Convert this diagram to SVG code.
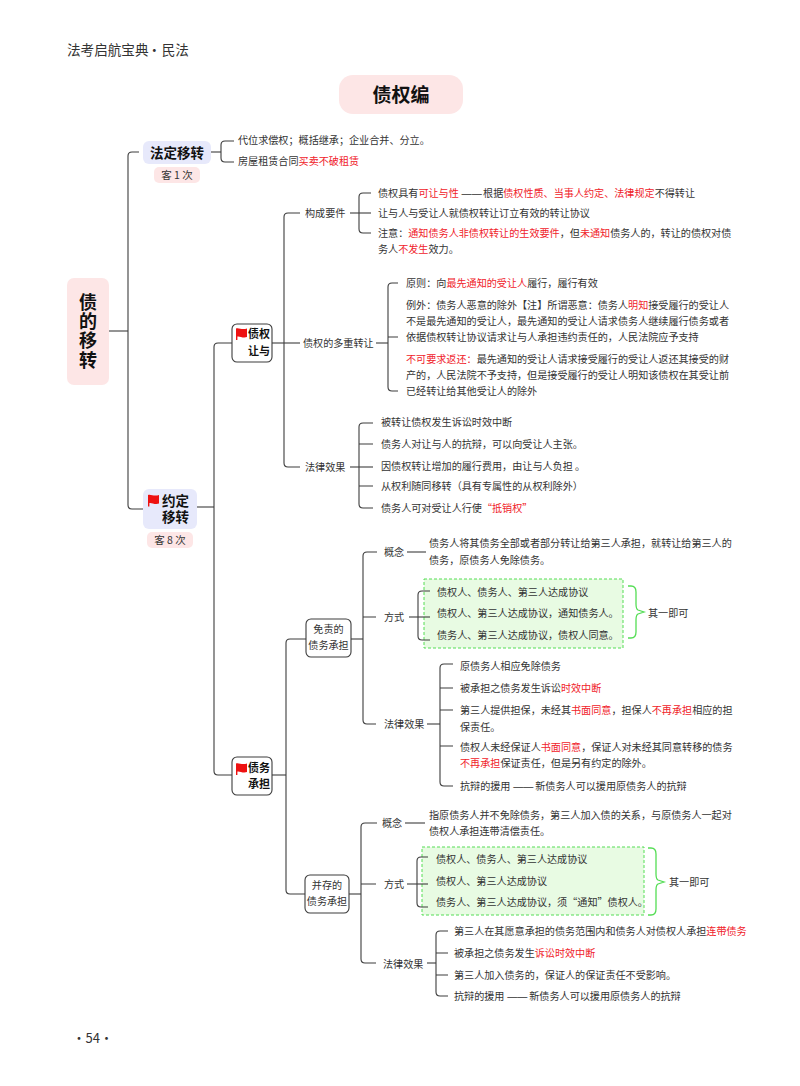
<svg xmlns="http://www.w3.org/2000/svg" width="800" height="1086" viewBox="0 0 800 1086">
<style>
text{font-family:"Noto Sans CJK SC","Noto Sans",sans-serif;font-size:10.1px;fill:#333}
.r{fill:#f0222a}
.b{font-weight:700;fill:#111}
.c{text-anchor:middle}
.d{font-family:"Liberation Sans",sans-serif}
.pink{fill:#fde6e6}
.lav{fill:#e7e9fb}
.wb{fill:#fff;stroke:#3c3c3c;stroke-width:1.1}
.gb{fill:#e8fbe3;stroke:#55dd55;stroke-width:1;stroke-dasharray:3 2}
.br{fill:none;stroke:#55dd55;stroke-width:1.3}
.rt{font-size:18px;writing-mode:vertical-rl;letter-spacing:1.3px}
#connectors path{fill:none;stroke:#3c3c3c;stroke-width:1.1}
</style>
<defs>
<path id="flag" fill="#ee1111" d="M0 0C3 -1 6 1.800 11 0V8.500C7 10 3.500 7.300 1.400 8V11.500H0Z"/>
</defs>
<rect width="800" height="1086" fill="#fff"/>
<g id="header"><text x="67" y="55" style="font-size:13.6px">法考启航宝典<tspan dx="-1">·</tspan><tspan dx="0.500">民法</tspan></text></g>
<g id="green-boxes"><rect class="gb" x="424" y="579" width="199" height="69"/><rect class="gb" x="422" y="847" width="222" height="68"/></g>
<g id="connectors">
<path d="M109 331H128"/>
<path d="M139 152H132Q128 152 128 156V505Q128 509 132 509H143"/>
<path d="M211 152H221"/>
<path d="M234 141H225Q221 141 221 145V158Q221 162 225 162H234"/>
<path d="M197 507H214"/>
<path d="M232 343H218Q214 343 214 347V771Q214 775 218 775H232"/>
<path d="M272 343H300"/>
<path d="M300 213H288Q284 213 284 217V463Q284 467 288 467H300"/>
<path d="M350 213H371"/>
<path d="M371 193H363Q359 193 359 197V229Q359 233 363 233H371"/>
<path d="M376 343H388"/>
<path d="M398 283H392Q388 283 388 287V387Q388 391 392 391H398M388 337H398"/>
<path d="M350 467H373"/>
<path d="M373 423H363Q359 423 359 427V504Q359 508 363 508H373M359 444H373M359 486H373"/>
<path d="M272 775H286"/>
<path d="M306 639H290Q286 639 286 643V890Q286 894 290 894H305"/>
<path d="M351 639H363"/>
<path d="M377 552H367Q363 552 363 556V720Q363 724 367 724H376M363 617H376"/>
<path d="M407 552H426"/>
<path d="M409 617H430"/>
<path d="M430 591H422Q418 591 418 595V636Q418 640 422 640H430"/>
<path d="M427 724H440"/>
<path d="M453 664H444Q440 664 440 668V782Q440 786 444 786H453M440 688H453M440 710H453M440 746H453"/>
<path d="M349 894H361"/>
<path d="M377 823H365Q361 823 361 827V959Q361 963 365 963H376M361 884H376"/>
<path d="M405 823H425"/>
<path d="M407 884H428"/>
<path d="M428 857H421Q417 857 417 861V903Q417 907 421 907H428"/>
<path d="M427 963H436"/>
<path d="M448 931H440Q436 931 436 935V992Q436 996 440 996H448M436 953H448M436 975H448"/>
</g>
<g id="title"><rect class="pink" x="339" y="75" width="124" height="39" rx="14"/><text class="b c" x="401" y="101.500" style="font-size:19px">债权编</text></g>
<g id="root"><rect class="pink" x="67" y="278" width="42" height="107" rx="7"/>
<text class="b rt" x="88" y="293">债的移转</text></g>
<g id="statutory"><rect class="lav" x="143" y="141" width="68" height="23" rx="6"/><text class="b c" x="177" y="157.500" style="font-size:13.500px">法定移转</text></g>
<g id="statutory-count"><rect class="pink" x="154" y="167" width="46" height="16" rx="5"/><text class="c" x="177" y="179" style="font-size:10.500px">客 1 次</text></g>
<g id="s1"><text x="238" y="143.600">代位求偿权；概括继承；企业合并、分立。</text></g>
<g id="s2"><text x="238" y="164.600">房屋租赁合同<tspan class="r">买卖不破租赁</tspan></text></g>
<g id="agreed"><rect class="lav" x="143" y="489" width="54" height="40" rx="6"/><use href="#flag" x="148" y="495"/><text class="b" x="162" y="506" style="font-size:13.500px">约定</text><text class="b" x="162" y="522" style="font-size:13.500px">移转</text></g>
<g id="agreed-count"><rect class="pink" x="147" y="532" width="46" height="16" rx="5"/><text class="c" x="170" y="544" style="font-size:10.500px">客 8 次</text></g>
<g id="assign"><rect class="wb" x="232" y="324" width="40" height="38" rx="5"/><use href="#flag" x="236" y="328.500"/><text class="b" x="248" y="338.300" style="font-size:11px">债权</text><text class="b" x="248" y="355" style="font-size:11px">让与</text></g>
<g id="assume"><rect class="wb" x="232" y="757" width="40" height="38" rx="5"/><use href="#flag" x="236" y="763.500"/><text class="b" x="248" y="772" style="font-size:11px">债务</text><text class="b" x="248" y="788" style="font-size:11px">承担</text></g>
<g id="a1"><text x="305" y="217">构成要件</text></g>
<g id="a2"><text x="303" y="347">债权的多重转让</text></g>
<g id="a3"><text x="305" y="471">法律效果</text></g>
<g id="a1-1"><text x="378" y="197">债权具有<tspan class="r">可让与性</tspan><tspan class="d"> —— </tspan><tspan dx="-1.500">根据</tspan><tspan class="r">债权性质、当事人约定、法律规定</tspan>不得转让</text></g>
<g id="a1-2"><text x="378" y="217">让与人与受让人就债权转让订立有效的转让协议</text></g>
<g id="a1-3"><text x="378" y="236.600">注意：<tspan class="r">通知债务人非债权转让的生效要件</tspan>，但<tspan class="r">未通知</tspan>债务人的，转让的债权对债</text><text x="378" y="252.600">务人<tspan class="r">不发生</tspan>效力。</text></g>
<g id="a2-1"><text x="406" y="286.600">原则：向<tspan class="r">最先通知的受让人</tspan>履行，履行有效</text></g>
<g id="a2-2"><text x="406" y="308.600">例外：债务人恶意的除外【注】所谓恶意：债务人<tspan class="r">明知</tspan>接受履行的受让人</text><text x="406" y="324.600">不是最先通知的受让人，最先通知的受让人请求债务人继续履行债务或者</text><text x="406" y="340.600">依据债权转让协议请求让与人承担违约责任的，人民法院应予支持</text></g>
<g id="a2-3"><text x="406" y="362.600"><tspan class="r">不可要求返还：</tspan>最先通知的受让人请求接受履行的受让人返还其接受的财</text><text x="406" y="378.600">产的，人民法院不予支持，但是接受履行的受让人明知该债权在其受让前</text><text x="406" y="394.600">已经转让给其他受让人的除外</text></g>
<g id="a3-1"><text x="381" y="426">被转让债权发生诉讼时效中断</text></g>
<g id="a3-2"><text x="381" y="448">债务人对让与人的抗辩，可以向受让人主张。</text></g>
<g id="a3-3"><text x="381" y="470">因债权转让增加的履行费用，由让与人负担 。</text></g>
<g id="a3-4"><text x="381" y="490">从权利随同移转（具有专属性的从权利除外）</text></g>
<g id="a3-5"><text x="381" y="512">债务人可对受让人行使<tspan class="r">“抵销权”</tspan></text></g>
<g id="exempt"><rect class="wb" x="306" y="619" width="45" height="38" rx="5"/><text class="c" x="328.500" y="632.500">免责的</text><text class="c" x="328.500" y="649">债务承担</text></g>
<g id="e1"><text x="384" y="556">概念</text></g>
<g id="e1-t"><text x="429" y="546.600">债务人将其债务全部或者部分转让给第三人承担，就转让给第三人的</text><text x="429" y="563.600">债务，原债务人免除债务。</text></g>
<g id="e2"><text x="384" y="620.600">方式</text></g>
<g id="e2-1"><text x="437" y="595.600">债权人、债务人、第三人达成协议</text></g>
<g id="e2-2"><text x="437" y="617">债权人、第三人达成协议，通知债务人。</text></g>
<g id="e2-3"><text x="437" y="639">债务人、第三人达成协议，债权人同意。</text></g>
<g id="e2-b"><path class="br" d="M628 586H631Q636 586 636 592V604Q636 609 638 610L644 612L638 614Q636 615 636 620V632Q636 638 631 638H628"/><text x="648" y="616.600">其一即可</text></g>
<g id="e3"><text x="384" y="728">法律效果</text></g>
<g id="e3-1"><text x="460" y="669.600">原债务人相应免除债务</text></g>
<g id="e3-2"><text x="460" y="691.600">被承担之债务发生诉讼<tspan class="r">时效中断</tspan></text></g>
<g id="e3-3"><text x="460" y="713.600">第三人提供担保，未经其<tspan class="r">书面同意</tspan>，担保人<tspan class="r">不再承担</tspan>相应的担</text><text x="460" y="730.600">保责任。</text></g>
<g id="e3-4"><text x="460" y="750.600">债权人未经保证人<tspan class="r">书面同意</tspan>，保证人对未经其同意转移的债务</text><text x="460" y="767"><tspan class="r">不再承担</tspan>保证责任，但是另有约定的除外。</text></g>
<g id="e3-5"><text x="460" y="789.600">抗辩的援用<tspan class="d"> —— </tspan><tspan dx="-1">新债务人可以援用原债务人的抗辩</tspan></text></g>
<g id="joint"><rect class="wb" x="305" y="875" width="44" height="38" rx="5"/><text class="c" x="327" y="888.500">并存的</text><text class="c" x="327" y="905">债务承担</text></g>
<g id="j1"><text x="382" y="827">概念</text></g>
<g id="j1-t"><text x="429" y="818.600">指原债务人并不免除债务，第三人加入债的关系，与原债务人一起对</text><text x="429" y="834.600">债权人承担连带清偿责任。</text></g>
<g id="j2"><text x="384" y="888">方式</text></g>
<g id="j2-1"><text x="436" y="862.600">债权人、债务人、第三人达成协议</text></g>
<g id="j2-2"><text x="436" y="884.600">债权人、第三人达成协议</text></g>
<g id="j2-3"><text x="436" y="906">债务人、第三人达成协议，须“通知”债权人。</text></g>
<g id="j2-b"><path class="br" d="M648 848H651Q656 848 656 854V874Q656 879 658 880L664 882L658 884Q656 885 656 890V909Q656 915 651 915H648"/><text x="669" y="885.600">其一即可</text></g>
<g id="j3"><text x="383" y="967.600">法律效果</text></g>
<g id="j3-1"><text x="454" y="934.600">第三人在其愿意承担的债务范围内和债务人对债权人承担<tspan class="r">连带债务</tspan></text></g>
<g id="j3-2"><text x="454" y="956.600">被承担之债务发生<tspan class="r">诉讼时效中断</tspan></text></g>
<g id="j3-3"><text x="454" y="978.600">第三人加入债务的，保证人的保证责任不受影响。</text></g>
<g id="j3-4"><text x="454" y="999.600">抗辩的援用<tspan class="d"> —— </tspan><tspan dx="-1">新债务人可以援用原债务人的抗辩</tspan></text></g>
<g id="page"><text x="72.500" y="1043" style="font-size:13px">·54·</text></g>
</svg>
